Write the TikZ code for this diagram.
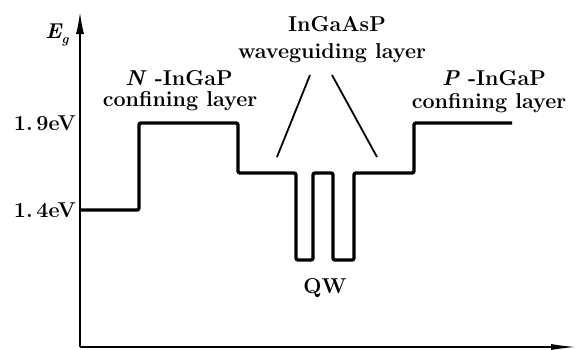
\documentclass[tikz,border=0pt]{standalone}
\usepackage{fontspec}
\usetikzlibrary{arrows.meta}
\begin{document}
\begin{tikzpicture}[x=1pt,y=-1pt,
  lbl/.style={inner sep=0pt,font=\fontsize{21.5}{24}\selectfont\bfseries},
  axis/.style={line width=1.6pt},
  band/.style={line width=3.4pt,rounded corners=2pt,line join=round},
  ptr/.style={line width=1.8pt}]
\useasboundingbox (0,0) rectangle (577,349);
% axes
\coordinate (O) at (80,347);
\coordinate (Ytop) at (80,12);
\coordinate (Xend) at (577,347);
\draw[axis,-{Latex[length=22pt,width=8pt]}] (O) -- (Ytop);
\draw[axis,-{Latex[length=26pt,width=6pt]}] (O) -- (Xend);
% band profile
\draw[band] (80,210) -- (139,210) -- (139,123) -- (238,123) -- (238,173)
  -- (296,173) -- (296,260) -- (313,260) -- (313,173) -- (333,173)
  -- (333,260) -- (354,260) -- (354,173) -- (414,173) -- (414,123) -- (512,123);
% labels
\node[lbl] (eg) at (57,35) {\itshape E\raisebox{-5pt}{\fontsize{13}{13}\selectfont\bfseries\itshape g}};
\node[lbl,anchor=east] (e19) at (76,123) {1.\,9eV};
\node[lbl,anchor=east] (e14) at (76,210) {1.\,4eV};
\node[lbl] (nlab) at (179,78) {\textit{N} -InGaP};
\node[lbl] (nconf) at (180,101) {confining layer};
\node[lbl] (wg1) at (337,24) {InGaAsP};
\node[lbl] (wg2) at (332,53) {waveguiding layer};
\node[lbl] (plab) at (494,78) {\textit{P} -InGaP};
\node[lbl] (pconf) at (489,103) {confining layer};
\node[lbl] (qw) at (325,288) {QW};
% pointer lines
\coordinate (pl1) at (310,75);
\coordinate (pl2) at (277,157);
\coordinate (pr1) at (332,75);
\coordinate (pr2) at (377,157);
\draw[ptr] (pl1) -- (pl2);
\draw[ptr] (pr1) -- (pr2);
\end{tikzpicture}
\end{document}
